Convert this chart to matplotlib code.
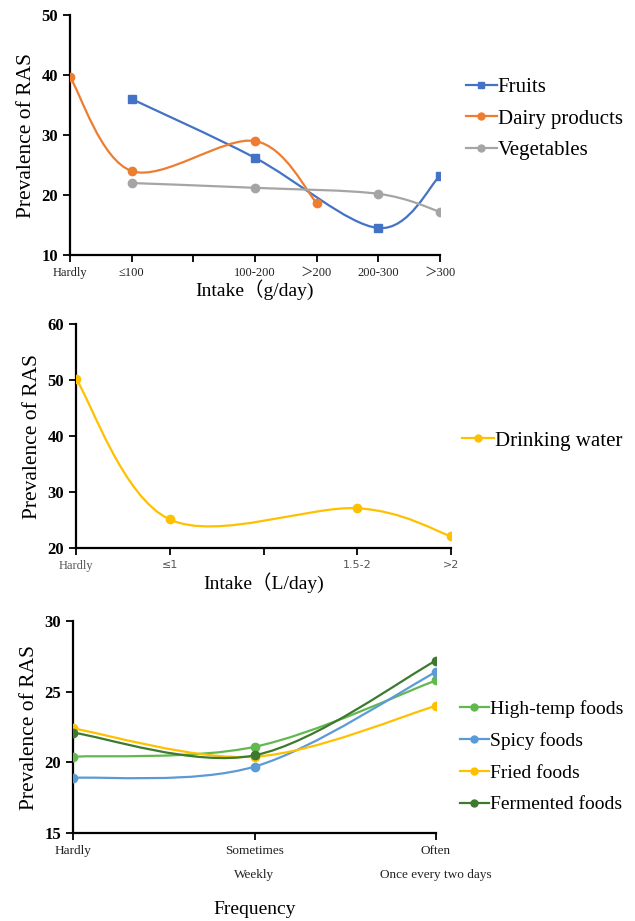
import matplotlib.pyplot as plt
from matplotlib.path import Path
from matplotlib.patches import PathPatch
from matplotlib.lines import Line2D

plt.rcParams['font.family'] = ['Liberation Serif', 'Noto Sans CJK SC', 'DejaVu Sans']

# ---- panel 1: fruit / dairy / vegetables intake
intake_g = ['Hardly', '≤100', '', '100-200', '＞200', '200-300', '＞300']
fruit_x = [1, 3, 5, 6]
fruit_y = [36.0, 26.2, 14.5, 23.2]
dairy_x = [0, 1, 3, 4]
dairy_y = [39.7, 24.0, 29.0, 18.7]
veg_x = [1, 3, 5, 6]
veg_y = [22.0, 21.2, 20.2, 17.2]

# ---- panel 2: drinking water
intake_l = ['Hardly', '≤1', '', '1.5-2', '>2']
water_y = [50.2, 25.1, 27.1, 22.1]
water_x = [0, 1, 3, 4]

# ---- panel 3: food frequency
freq = ['Hardly', 'Sometimes\nWeekly', 'Often\nOnce every two days']
hightemp = [20.4, 21.1, 25.8]
spicy = [18.9, 19.7, 26.4]
fried = [22.4, 20.4, 24.0]
fermented = [22.1, 20.5, 27.2]


def smooth(ax, x, y, color, lw=1.6):
    # excel-like smoothed line, bezier through the points
    pts = list(zip(x, y))
    n = len(pts)
    verts = [pts[0]]
    codes = [Path.MOVETO]
    for i in range(n - 1):
        p0 = pts[i - 1] if i > 0 else pts[i]
        p1 = pts[i]
        p2 = pts[i + 1]
        p3 = pts[i + 2] if i + 2 < n else pts[i + 1]
        c1 = (p1[0] + (p2[0] - p0[0]) / 6, p1[1] + (p2[1] - p0[1]) / 6)
        c2 = (p2[0] - (p3[0] - p1[0]) / 6, p2[1] - (p3[1] - p1[1]) / 6)
        verts += [c1, c2, p2]
        codes += [Path.CURVE4] * 3
    ax.add_patch(PathPatch(Path(verts, codes), fc='none', ec=color, lw=lw, zorder=2))


def series(ax, x, y, color, marker, ms, label):
    smooth(ax, x, y, color)
    ax.plot(x, y, ls='none', marker=marker, ms=ms, color=color, zorder=3)
    return Line2D([], [], color=color, lw=1.6, marker=marker, ms=ms - 1, label=label)


def style(ax, ymin, ymax, step):
    for s in ['top', 'right']:
        ax.spines[s].set_visible(False)
    for s in ['left', 'bottom']:
        ax.spines[s].set_linewidth(1.6)
    ax.set_ylim(ymin, ymax)
    ax.set_yticks(range(ymin, ymax + 1, step))
    ax.tick_params(axis='both', direction='out', width=1.3, length=5)
    for t in ax.get_yticklabels():
        t.set_fontsize(12)
        t.set_fontweight('bold')
    ax.set_ylabel('Prevalence of RAS', fontsize=15.5)


leg_kw = dict(loc='upper left', frameon=False, handlelength=1.5,
              handletextpad=0.05, borderaxespad=0)

fig = plt.figure(figsize=(6.35, 9.21), dpi=100)

# panel 1
ax1 = fig.add_axes([0.1102, 0.7231, 0.5827, 0.2606])
h = []
h.append(series(ax1, fruit_x, fruit_y, '#4472C4', 's', 6, 'Fruits'))
h.append(series(ax1, dairy_x, dairy_y, '#ED7D31', 'o', 6, 'Dairy products'))
h.append(series(ax1, veg_x, veg_y, '#A5A5A5', 'o', 6, 'Vegetables'))
ax1.set_xlim(0, 6)
ax1.set_xticks(range(len(intake_g)))
ax1.set_xticklabels(intake_g, fontsize=9, color='#222222')
style(ax1, 10, 50, 10)
ax1.set_xlabel('Intake（g/day)', fontsize=14, labelpad=0)
fig.legend(handles=h, bbox_to_anchor=(0.72, 0.925), fontsize=15, labelspacing=0.58, **leg_kw)

# panel 2
ax2 = fig.add_axes([0.1197, 0.4050, 0.5906, 0.2432])
h2 = [series(ax2, water_x, water_y, '#FFC000', 'o', 6, 'Drinking water')]
ax2.set_xlim(0, 4)
ax2.set_xticks(range(len(intake_l)))
ax2.set_xticklabels(intake_l, fontsize=9, color='#555555')
for t in ax2.get_xticklabels()[1:]:
    t.set_family(['DejaVu Sans'])
    t.set_fontsize(8)
style(ax2, 20, 60, 10)
ax2.set_xlabel('Intake（L/day)', fontsize=14, labelpad=0)
fig.legend(handles=h2, bbox_to_anchor=(0.715, 0.541), fontsize=15, **leg_kw)

# panel 3
ax3 = fig.add_axes([0.1150, 0.0955, 0.5717, 0.2302])
x3 = list(range(len(freq)))
h3 = []
h3.append(series(ax3, x3, hightemp, '#62B84F', 'o', 6, 'High-temp foods'))
h3.append(series(ax3, x3, spicy, '#5B9BD5', 'o', 6, 'Spicy foods'))
h3.append(series(ax3, x3, fried, '#FFC000', 'o', 6, 'Fried foods'))
h3.append(series(ax3, x3, fermented, '#3D7A2E', 'o', 6, 'Fermented foods'))
ax3.set_xlim(0, 2)
ax3.set_xticks(x3)
ax3.set_xticklabels(freq, fontsize=9.5, color='#222222', linespacing=2.4)
style(ax3, 15, 30, 5)
ax3.set_xlabel('Frequency', fontsize=14, labelpad=14)
fig.legend(handles=h3, bbox_to_anchor=(0.712, 0.248), fontsize=14, labelspacing=0.72, **leg_kw)

fig.savefig('out.png', dpi=100)
